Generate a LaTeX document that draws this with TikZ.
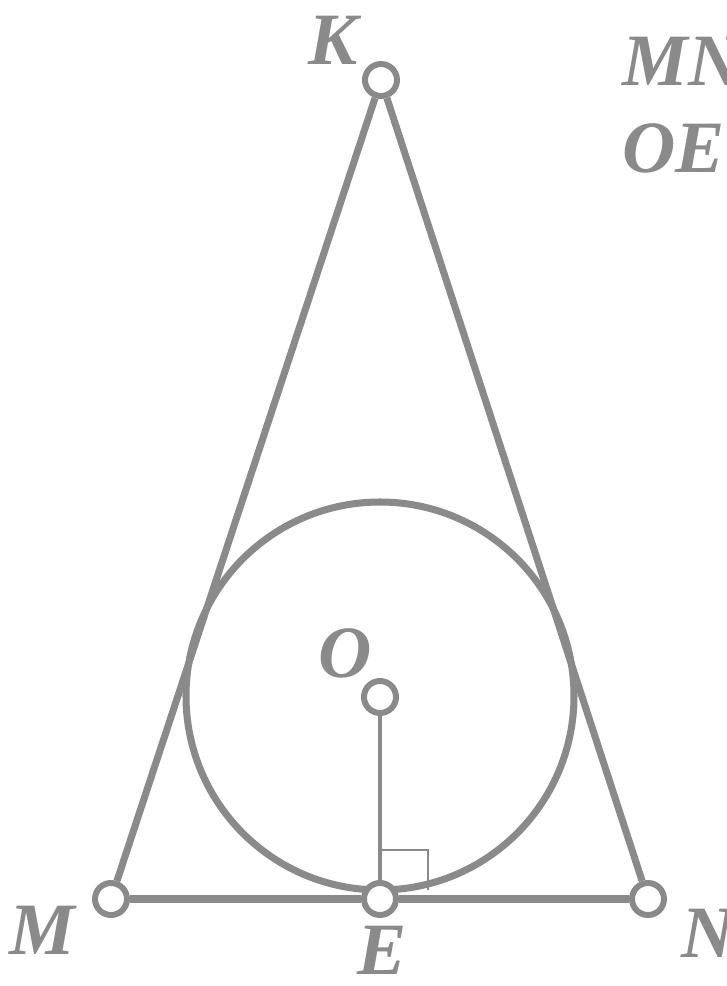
\documentclass[tikz,border=0pt]{standalone}
\usepackage{fontspec}
\setmainfont{Liberation Serif}
\usepackage{tikz}
\usepackage{xcolor}
\usetikzlibrary{calc}
\definecolor{cGray}{RGB}{138,138,138}
\tikzset{
	pt/.style   ={circle, draw=cGray, fill=white, line width=1.7pt, minimum size=0.32cm, inner sep=0pt},
	side/.style ={draw=cGray, line width=2pt},
	lbl/.style  ={text=cGray, inner sep=0pt, font=\fontsize{21}{25}\selectfont\bfseries\itshape},
}
\begin{document}
\begin{tikzpicture}
	\useasboundingbox (0,0) rectangle (7.26,9.86);
	% inscribed circle
	\draw[side] (3.80,2.90) circle (1.94);
	% points
	\node[pt] (K) at (3.81,9.06) {};
	\node[pt] (M) at (1.11,0.87) {};
	\node[pt] (N) at (6.48,0.87) {};
	\node[pt] (E) at (3.80,0.87) {};
	\node[pt] (O) at (3.80,2.89) {};
	% triangle
	\draw[side] (M) -- (K);
	\draw[side] (K) -- (N);
	\draw[side, line width=2.5pt] (M) -- (E);
	\draw[side, line width=2.5pt] (E) -- (N);
	\draw[draw=cGray, line width=1pt] (O) -- (E);
	% right angle
	\draw[draw=cGray, line width=0.7pt] ($(E)+(0,0.49)$) -- ++(0.48,0) -- ++(0,-0.40);
	% labels
	\node[lbl] (lK) at (3.33,9.46) {K};
	\node[lbl] (lM) at (0.42,0.56) {M};
	\node[lbl] (lN) at (7.08,0.53) {N};
	\node[lbl] (lE) at (3.82,0.36) {E};
	\node[lbl] (lO) at (3.45,3.33) {O};
	\node[lbl, anchor=base west] (tMN) at (6.22,9.01) {MN};
	\node[lbl, anchor=base west] (tOE) at (6.22,8.14) {OE};
\end{tikzpicture}
\end{document}
